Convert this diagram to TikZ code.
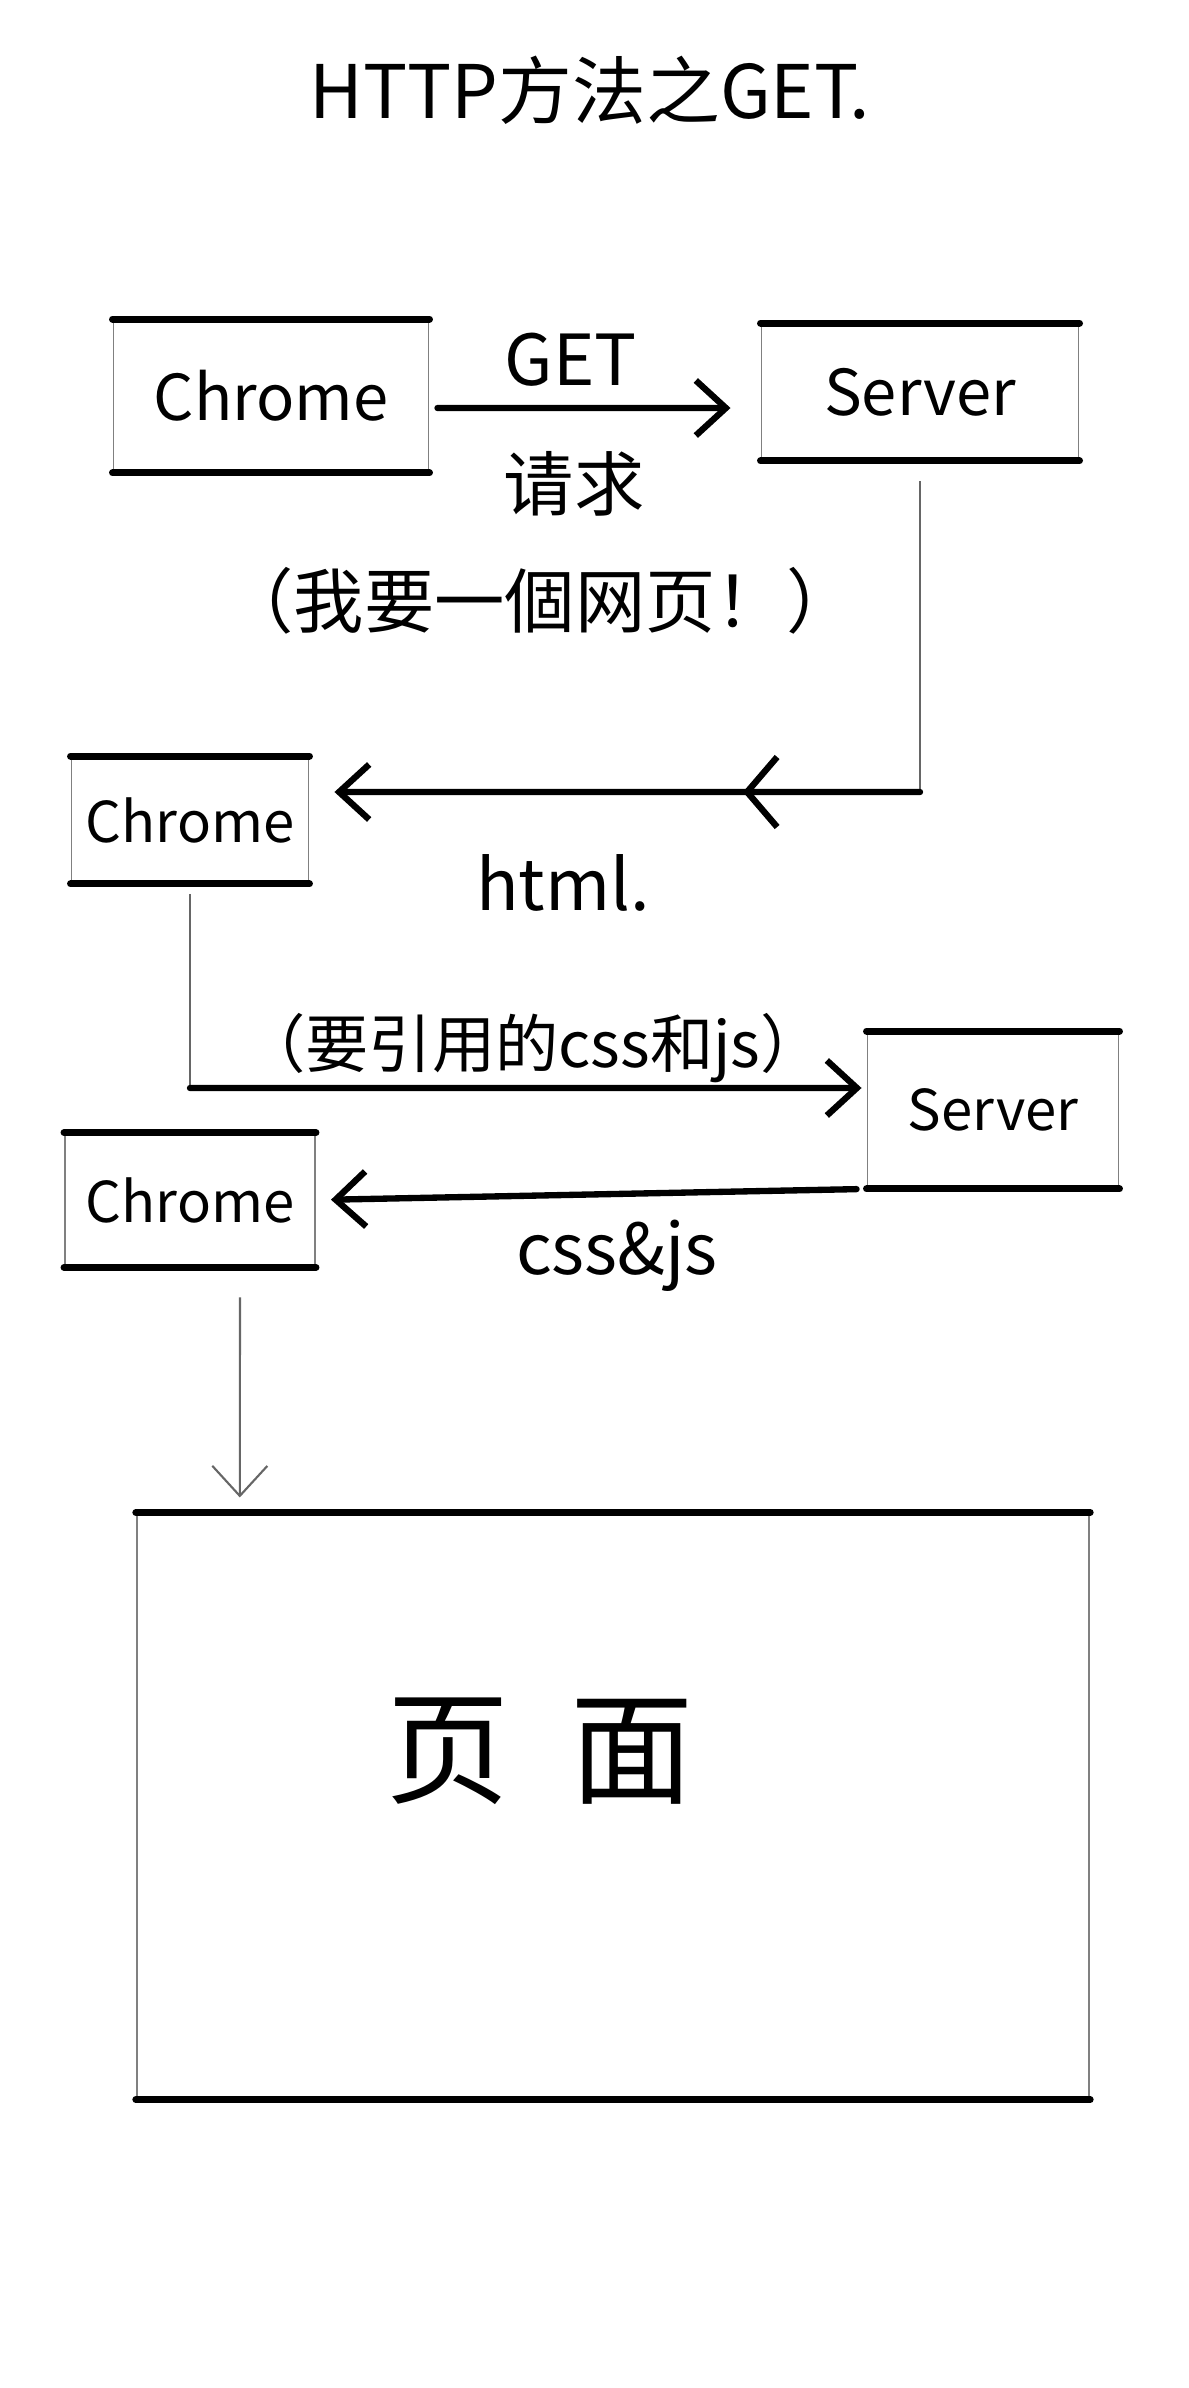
\documentclass[tikz,border=0pt]{standalone}
\usepackage{fontspec}
\newfontfamily\cjk{Noto Sans CJK SC}
\usetikzlibrary{positioning, calc, arrows.meta, decorations.markings}

\begin{document}
\begin{tikzpicture}[x=0.01cm, y=-0.01cm,
    every node/.style={font=\cjk\fontsize{18pt}{22pt}\selectfont},
    box/.style={draw=black!50, line width=0.5pt, inner sep=0pt,
      append after command={
        (\tikzlastnode.north west) edge[draw=black, line width=2pt, line cap=round] (\tikzlastnode.north east)
        (\tikzlastnode.south west) edge[draw=black, line width=2pt, line cap=round] (\tikzlastnode.south east)}},
    big/.style={font=\cjk\fontsize{20pt}{24pt}\selectfont},
    small/.style={font=\cjk\fontsize{16pt}{20pt}\selectfont},
    thinline/.style={draw=black!60, line width=0.6pt},
    thickline/.style={draw=black, line width=1.8pt, line cap=round},
    arrowto/.style={-{Straight Barb[length=3mm, width=5.5mm]}}]
    \useasboundingbox (0,0) rectangle (1189,2388);

    \node[font=\cjk\fontsize{21pt}{25pt}\selectfont] (titletext) at (590,90) {HTTP方法之GET.};

    % boxes
    \node[box, minimum width=3.15cm, minimum height=1.52cm] (chrome1) at (271,396) {Chrome};
    \node[box, minimum width=3.17cm, minimum height=1.36cm] (server1) at (920,392) {Server};
    \node[box, small, minimum width=2.37cm, minimum height=1.26cm] (chrome2) at (190,820) {Chrome};
    \node[box, small, minimum width=2.51cm, minimum height=1.56cm] (server2) at (993,1110) {Server};
    \node[box, small, minimum width=2.5cm, minimum height=1.33cm] (chrome3) at (190,1200) {Chrome};
    \node[box, minimum width=9.52cm, minimum height=5.85cm] (page) at (613,1806) {};
    \node[font=\cjk\fontsize{35pt}{40pt}\selectfont] (pagetext) at (540,1751) {页\hspace{0.5em}面};

    % labels
    \node[big] (getlabel) at (571,360) {GET};
    \node[big] (request) at (574,484) {请求};
    \node[big] (want) at (540,601) {（我要一個网页！）};
    \node[big] (html) at (563,883) {html.};
    \node (need) at (533,1048) {（要引用的css和js）};
    \node[big] (cssjs) at (617,1256) {css\&js};

    % connectors
    \draw[thickline, arrowto, shorten <=0.08cm, shorten >=0.3cm] ([yshift=-0.12cm]chrome1.east) -- ([yshift=-0.16cm]server1.west);

    \coordinate (bendA) at (server1.south |- 0,792);
    \draw[thinline, shorten <=0.2cm] (server1.south) -- (bendA);
    \draw[thickline, arrowto, shorten >=0.25cm, postaction={decorate},
      decoration={markings, mark=at position 0.29 with {\arrow{Straight Barb[length=3mm, width=7mm]}}}]
      (bendA) -- ([yshift=0.28cm]chrome2.east);

    \coordinate (bendB) at (chrome2.south |- 0,1088);
    \draw[thinline, shorten <=0.1cm] (chrome2.south) -- (bendB);
    \draw[thickline, arrowto, shorten >=0.05cm] (bendB) -- ([yshift=0.22cm]server2.west);

    \draw[thickline, arrowto, shorten <=0.1cm, shorten >=0.15cm] (server2.south west) -- (chrome3.east);
    \draw[thinline, arrowto, shorten <=0.3cm, shorten >=0.15cm] ([xshift=0.5cm]chrome3.south) -- ([xshift=-3.73cm]page.north);
\end{tikzpicture}
\end{document}
